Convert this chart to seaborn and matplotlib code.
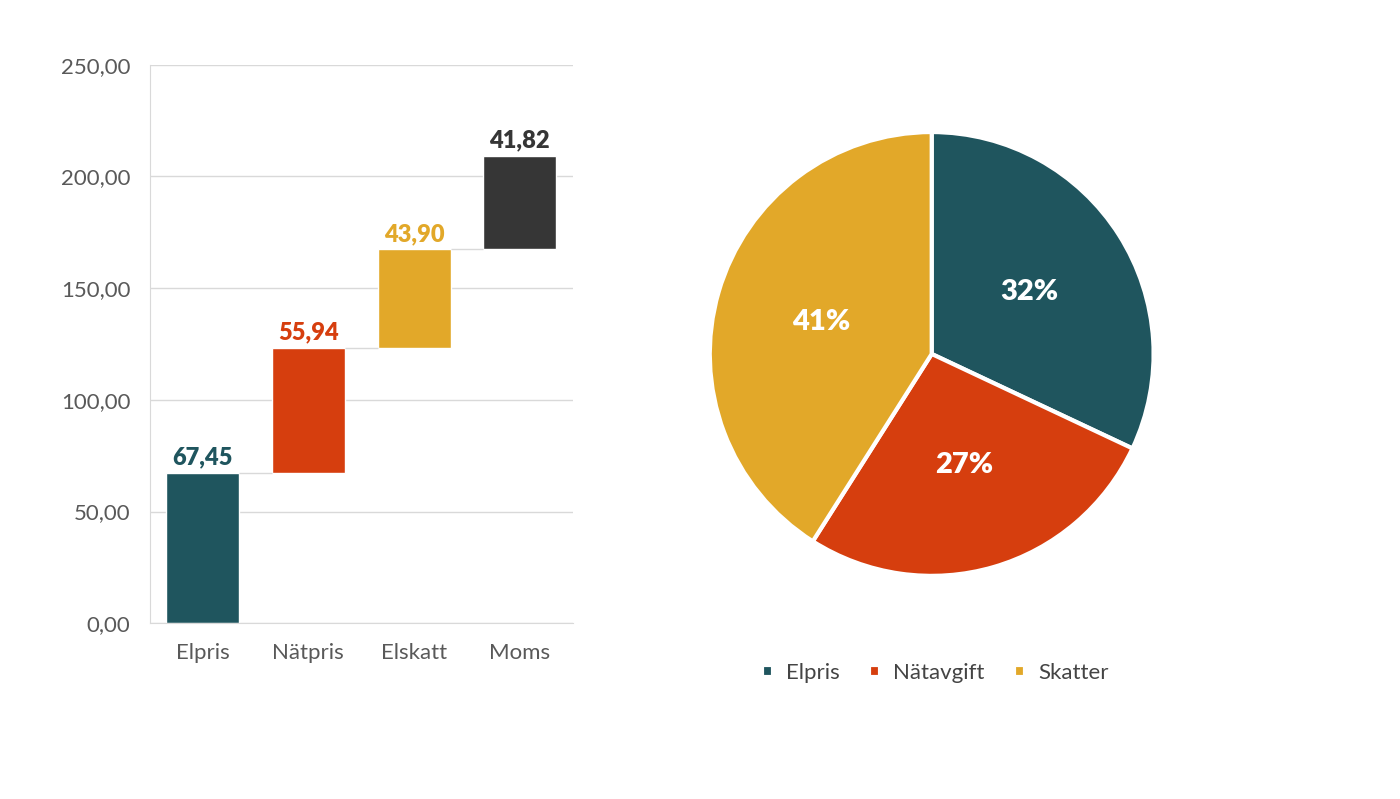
import matplotlib
matplotlib.use("Agg")
import matplotlib.pyplot as plt
import seaborn as sns
import numpy as np
import pandas as pd

categories = ["Elpris", "Nätpris", "Elskatt", "Moms"]
values = [67.45, 55.94, 43.90, 41.82]
labels = ["67,45", "55,94", "43,90", "41,82"]
bar_colors = ["#1F555E", "#D63E0E", "#E2A829", "#363636"]
yticks = [0, 50, 100, 150, 200, 250]
ytick_labels = ["0,00", "50,00", "100,00", "150,00", "200,00", "250,00"]

pie_labels = ["Elpris", "Nätavgift", "Skatter"]
pie_values = [32, 27, 41]
pie_colors = ["#1F555E", "#D63E0E", "#E2A829"]

sns.set_style("white")
plt.rcParams['font.family'] = ['Lato', 'DejaVu Sans']

fig = plt.figure(figsize=(14, 7.99), dpi=100)
ax = fig.add_axes([0.107, 0.220, 0.302, 0.699])

bottoms = np.concatenate([[0], np.cumsum(values)[:-1]])
df = pd.DataFrame({"cat": categories, "val": values})
for i, c in enumerate(categories):
    sns.barplot(data=df[df["cat"] == c], x="cat", y="val", order=categories,
                color=bar_colors[i], ax=ax, width=0.69, bottom=bottoms[i], saturation=1)
ax.set_ylim(0, 250)
ax.set_xlim(-0.5, 3.5)
ax.set_yticks(yticks)
ax.set_yticklabels(ytick_labels)
ax.yaxis.grid(True, color="#d9d9d9", lw=1)
ax.set_axisbelow(True)
for s in ["top", "right"]:
    ax.spines[s].set_visible(False)
ax.spines["left"].set_color("#d9d9d9")
ax.spines["bottom"].set_color("#d9d9d9")
ax.tick_params(axis="both", length=0, labelsize=16, colors="#595959", pad=14)
ax.set_xlabel("")
ax.set_ylabel("")
tops = bottoms + np.array(values)
for i in range(len(values) - 1):
    ax.hlines(tops[i], i + 0.345, i + 1 - 0.345, color="#d9d9d9", lw=1)
for i, (t, lab, c) in enumerate(zip(tops, labels, bar_colors)):
    ax.text(i, t + 2, lab, ha="center", va="bottom", fontsize=17,
            fontweight="heavy", color=c)

pax = fig.add_axes([0.507, 0.279, 0.317, 0.556])
wedges, _ = pax.pie(pie_values, colors=pie_colors, startangle=90, counterclock=False,
                    wedgeprops=dict(edgecolor="white", linewidth=3), radius=1)
pax.set_xlim(-1, 1)
pax.set_ylim(-1, 1)
pax.set_aspect("equal")
ang = 90.0
for v, w in zip(pie_values, wedges):
    mid = np.deg2rad(ang - v * 3.6 / 2)
    ang -= v * 3.6
    pax.text(0.52 * np.cos(mid), 0.52 * np.sin(mid), f"{v}%", ha="center", va="center",
             color="white", fontsize=21, fontweight="heavy")
fig.legend(wedges, pie_labels, loc="center", bbox_to_anchor=(0.668, 0.158), ncol=3,
           frameon=False, fontsize=16, handlelength=0.5, handleheight=0.5,
           handletextpad=0.6, columnspacing=1.3, labelcolor="#444444")

fig.savefig("out.png", dpi=100, facecolor="white")
